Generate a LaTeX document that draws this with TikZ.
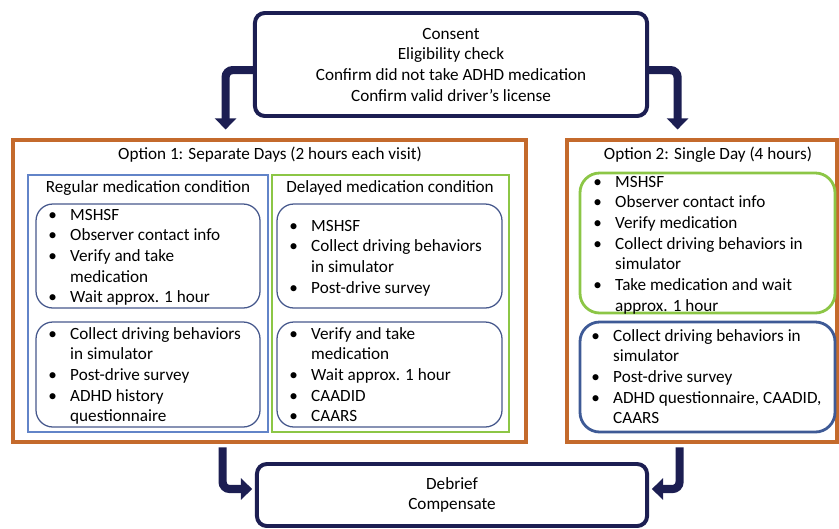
\documentclass[tikz,border=0pt]{standalone}
\usepackage{fontspec}
\setmainfont{Carlito}
\usetikzlibrary{arrows.meta,fit}
\definecolor{navy}{RGB}{28,30,82}
\definecolor{optorange}{RGB}{196,106,44}
\definecolor{regblue}{RGB}{98,132,200}
\definecolor{delgreen}{RGB}{140,198,70}
\definecolor{listblue}{RGB}{70,88,140}
\definecolor{dayblue}{RGB}{62,90,150}
\newcommand{\itm}{\strut\makebox[15.6pt][l]{\textbullet}}
\newcommand{\cnt}{\strut\hspace*{15.6pt}}
\begin{document}
\begin{tikzpicture}[x=0.025cm, y=-0.025cm,
    font=\fontsize{12.2}{14.7}\selectfont,
    stepnode/.style={draw=navy, line width=2.8pt, rounded corners=7pt, align=center, inner sep=0pt},
    optbox/.style={draw=optorange, line width=3.5pt, inner sep=0pt},
    condbox/.style={line width=2pt, inner sep=0pt},
    listbox/.style={draw=listblue, line width=0.9pt, rounded corners=12pt, inner sep=0pt},
    daybox/.style={line width=2pt, rounded corners=14pt, inner sep=0pt},
    listtext/.style={anchor=north west, align=left, inner sep=0pt},
    heading/.style={inner sep=0pt},
    flow/.style={draw=navy, line width=5.8pt, rounded corners=5pt, -{Triangle[width=15pt,length=8pt]}}]
  \useasboundingbox (0,0) rectangle (839,528);

  % screening and closing visits
  \node[stepnode, minimum width=9.8cm, minimum height=2.575cm] (consent) at (451,64.5)
    {Consent\\Eligibility check\\Confirm did not take ADHD medication\\Confirm valid driver’s license};
  \node[stepnode, minimum width=9.75cm, minimum height=1.55cm] (debrief) at (452,495)
    {Debrief\\Compensate};

  % option 1
  \node[optbox, fit={(13,140) (526,442)}] (opt1) {};
  \node[heading] (opt1title) at (270,155) {Option 1: Separate Days (2 hours each visit)};
  \node[condbox, draw=regblue, fit={(28,175) (268,432)}] (regular) {};
  \node[condbox, draw=delgreen, fit={(272,175) (509,432)}] (delayed) {};
  \node[heading] (regtitle) at (148,188) {Regular medication condition};
  \node[heading] (deltitle) at (390,188) {Delayed medication condition};

  \node[listbox, fit={(36,204) (260,308)}] (reg1) {};
  \node[listbox, fit={(36,322) (260,427)}] (reg2) {};
  \node[listbox, fit={(277,204) (502,308)}] (del1) {};
  \node[listbox, fit={(277,322) (502,427)}] (del2) {};

  \node[listtext] (reg1txt) at (48,205.5)
    {\itm MSHSF\\\itm Observer contact info\\\itm Verify and take\\\cnt medication\\\itm Wait approx. 1 hour};
  \node[listtext] (reg2txt) at (48,324.5)
    {\itm Collect driving behaviors\\\cnt in simulator\\\itm Post-drive survey\\\itm ADHD history\\\cnt questionnaire};
  \node[listtext] (del1txt) at (289,216.5)
    {\itm MSHSF\\\itm Collect driving behaviors\\\cnt in simulator\\\itm Post-drive survey};
  \node[listtext] (del2txt) at (289,324.5)
    {\itm Verify and take\\\cnt medication\\\itm Wait approx. 1 hour\\\itm CAADID\\\itm CAARS};

  % option 2
  \node[optbox, fit={(567,140) (837,442)}] (opt2) {};
  \node[heading] (opt2title) at (708,155) {Option 2: Single Day (4 hours)};
  \node[daybox, draw=delgreen, fit={(580,173) (835,313)}] (day1) {};
  \node[daybox, draw=dayblue, fit={(580,322) (835,432)}] (day2) {};

  \node[listtext] (day1txt) at (593,172.5)
    {\itm MSHSF\\\itm Observer contact info\\\itm Verify medication\\\itm Collect driving behaviors in\\\cnt simulator\\\itm Take medication and wait\\\cnt approx. 1 hour};
  \node[listtext] (day2txt) at (591,326.5)
    {\itm Collect driving behaviors in\\\cnt simulator\\\itm Post-drive survey\\\itm ADHD questionnaire, CAADID,\\\cnt CAARS};

  % flow between visits
  \draw[flow, shorten >=5.7pt] ([yshift=-0.14cm]consent.west) -| ([xshift=5.375cm]opt1.north west);
  \draw[flow, shorten >=5.7pt] ([yshift=-0.14cm]consent.east) -| ([xshift=2.825cm]opt2.north west);
  \draw[flow, shorten <=2pt, shorten >=2pt] ([xshift=5.3cm]opt1.south west) |- ([yshift=0.15cm]debrief.west);
  \draw[flow, shorten <=2pt, shorten >=2pt] ([xshift=2.875cm]opt2.south west) |- ([yshift=0.15cm]debrief.east);
\end{tikzpicture}
\end{document}
